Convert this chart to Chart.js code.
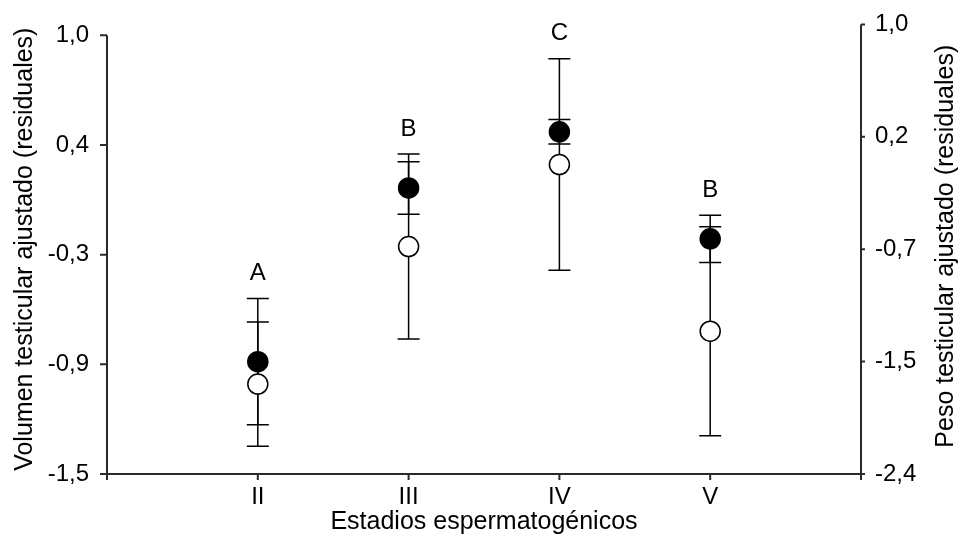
<!DOCTYPE html>
<html>
<head>
<meta charset="utf-8">
<script src="https://cdn.jsdelivr.net/npm/chart.js@4/dist/chart.umd.min.js"></script>
<style>
  html, body { margin: 0; padding: 0; background: #fff; }
  #wrap { width: 962px; height: 542px; }
</style>
</head>
<body>
<div id="wrap"><canvas id="c" width="962" height="542"></canvas></div>
<script>
// Spermatogenic stages and group letters
const stages = ['II', 'III', 'IV', 'V'];
const groupLetters = ['A', 'B', 'C', 'B'];

// Adjusted testicular volume (residuals), mean and error — left axis, filled markers
const volumen = [-0.86, 0.13, 0.45, -0.16];
const volumenErr = [0.36, 0.15, 0.07, 0.135];

// Adjusted testicular weight (residuals), mean and error — right axis, open markers
const peso = [-1.72, -0.68, -0.06, -1.32];
const pesoErr = [0.47, 0.70, 0.80, 0.79];

// Axis ticks
const leftTicks = [-1.5, -0.875, -0.25, 0.375, 1.0];
const leftTickLabels = ['-1,5', '-0,9', '-0,3', '0,4', '1,0'];
const rightTicks = [-2.4, -1.55, -0.7, 0.15, 1.0];
const rightTickLabels = ['-2,4', '-1,5', '-0,7', '0,2', '1,0'];

const rightTitle = 'Peso testicular ajustado (residuales)';

const FONT = "'Liberation Sans', Arial, sans-serif";
const INK = '#000';
const AXIS_INK = '#2a2a2a';
const TICK_SIZE = 24;
const TITLE_SIZE = 25;

const toPoints = (vals) => vals.map((v, i) => ({ x: i + 1, y: v }));

// Error bars, axis lines, tick marks, group letters and the right-hand title
const decorations = {
  id: 'decorations',
  beforeDatasetsDraw(chart) {
    const ctx = chart.ctx;
    const xs = chart.scales.x;
    const series = [
      { vals: volumen, errs: volumenErr, scale: chart.scales.yL },
      { vals: peso, errs: pesoErr, scale: chart.scales.yR }
    ];
    ctx.save();
    ctx.strokeStyle = INK;
    ctx.lineWidth = 1.5;
    const cap = 11;
    series.forEach(s => {
      s.vals.forEach((v, i) => {
        const px = xs.getPixelForValue(i + 1);
        const hi = s.scale.getPixelForValue(v + s.errs[i]);
        const lo = s.scale.getPixelForValue(v - s.errs[i]);
        ctx.beginPath();
        ctx.moveTo(px, hi); ctx.lineTo(px, lo);
        ctx.moveTo(px - cap, hi); ctx.lineTo(px + cap, hi);
        ctx.moveTo(px - cap, lo); ctx.lineTo(px + cap, lo);
        ctx.stroke();
      });
    });

    // group letters above the highest cap of each stage
    ctx.fillStyle = INK;
    ctx.font = TICK_SIZE + 'px ' + FONT;
    ctx.textAlign = 'center';
    ctx.textBaseline = 'middle';
    groupLetters.forEach((g, i) => {
      const px = xs.getPixelForValue(i + 1);
      const top = Math.min(
        chart.scales.yL.getPixelForValue(volumen[i] + volumenErr[i]),
        chart.scales.yR.getPixelForValue(peso[i] + pesoErr[i])
      );
      ctx.fillText(g, px, top - 25);
    });
    ctx.restore();
  },
  afterDraw(chart) {
    const ctx = chart.ctx;
    const { left, right, top, bottom } = chart.chartArea;
    const yL = chart.scales.yL, yR = chart.scales.yR, xs = chart.scales.x;
    const ext = 6;
    ctx.save();
    ctx.strokeStyle = AXIS_INK;
    ctx.lineWidth = 2;
    ctx.beginPath();
    // left axis
    ctx.moveTo(left, yL.getPixelForValue(leftTicks[leftTicks.length - 1]));
    ctx.lineTo(left, bottom + ext);
    leftTicks.forEach(t => {
      const py = yL.getPixelForValue(t);
      ctx.moveTo(left - 7, py); ctx.lineTo(left, py);
    });
    // right axis
    ctx.moveTo(right, yR.getPixelForValue(rightTicks[rightTicks.length - 1]));
    ctx.lineTo(right, bottom + ext);
    rightTicks.forEach(t => {
      const py = yR.getPixelForValue(t);
      ctx.moveTo(right, py); ctx.lineTo(right + 4, py);
    });
    // x axis
    ctx.moveTo(left, bottom); ctx.lineTo(right, bottom);
    stages.forEach((s, i) => {
      const px = xs.getPixelForValue(i + 1);
      ctx.moveTo(px, bottom); ctx.lineTo(px, bottom + ext);
    });
    ctx.stroke();

    // right-hand axis title, reading bottom to top
    ctx.translate(yR.right - 16, (top + bottom) / 2 - 3);
    ctx.rotate(-Math.PI / 2);
    ctx.fillStyle = INK;
    ctx.font = TITLE_SIZE + 'px ' + FONT;
    ctx.textAlign = 'center';
    ctx.textBaseline = 'middle';
    ctx.fillText(rightTitle, 0, 0);
    ctx.restore();
  }
};

new Chart(document.getElementById('c'), {
  type: 'scatter',
  data: {
    datasets: [
      {
        label: 'Volumen testicular ajustado',
        data: toPoints(volumen),
        yAxisID: 'yL',
        pointRadius: 10,
        pointHoverRadius: 10,
        backgroundColor: '#000',
        borderColor: '#000',
        borderWidth: 1.5,
        clip: false
      },
      {
        label: 'Peso testicular ajustado',
        data: toPoints(peso),
        yAxisID: 'yR',
        pointRadius: 10,
        pointHoverRadius: 10,
        backgroundColor: '#fff',
        borderColor: '#000',
        borderWidth: 1.5,
        clip: false
      }
    ]
  },
  options: {
    responsive: false,
    animation: false,
    events: [],
    layout: { padding: { top: 18, left: 0, right: 0, bottom: 0 } },
    plugins: { legend: { display: false }, tooltip: { enabled: false } },
    scales: {
      x: {
        type: 'linear',
        min: 0,
        max: 5,
        grid: { display: false },
        border: { display: false },
        afterFit(s) { s.height = 68; },
        afterBuildTicks(s) { s.ticks = stages.map((_, i) => ({ value: i + 1 })); },
        ticks: {
          padding: 1,
          color: INK,
          font: { family: FONT, size: TICK_SIZE },
          callback: (v) => stages[v - 1] ?? ''
        },
        title: {
          display: true,
          text: 'Estadios espermatogénicos',
          color: INK,
          font: { family: FONT, size: TITLE_SIZE },
          padding: { top: 0, bottom: 5 }
        }
      },
      yL: {
        type: 'linear',
        position: 'left',
        min: -1.5,
        max: 1.062,
        grid: { display: false },
        border: { display: false },
        afterFit(s) { s.width = 107; },
        afterBuildTicks(s) { s.ticks = leftTicks.map(v => ({ value: v })); },
        ticks: {
          padding: 10,
          color: INK,
          font: { family: FONT, size: TICK_SIZE },
          callback: (v) => leftTickLabels[leftTicks.indexOf(v)]
        },
        title: {
          display: true,
          text: 'Volumen testicular ajustado (residuales)',
          color: INK,
          font: { family: FONT, size: TITLE_SIZE },
          padding: { top: 10, bottom: 0 }
        }
      },
      yR: {
        type: 'linear',
        position: 'right',
        min: -2.4,
        max: 1.0,
        grid: { display: false },
        border: { display: false },
        afterFit(s) { s.width = 101; },
        afterBuildTicks(s) { s.ticks = rightTicks.map(v => ({ value: v })); },
        ticks: {
          padding: 6,
          color: INK,
          font: { family: FONT, size: TICK_SIZE },
          callback: (v) => rightTickLabels[rightTicks.indexOf(v)]
        }
      }
    }
  },
  plugins: [decorations]
});
</script>
</body>
</html>
